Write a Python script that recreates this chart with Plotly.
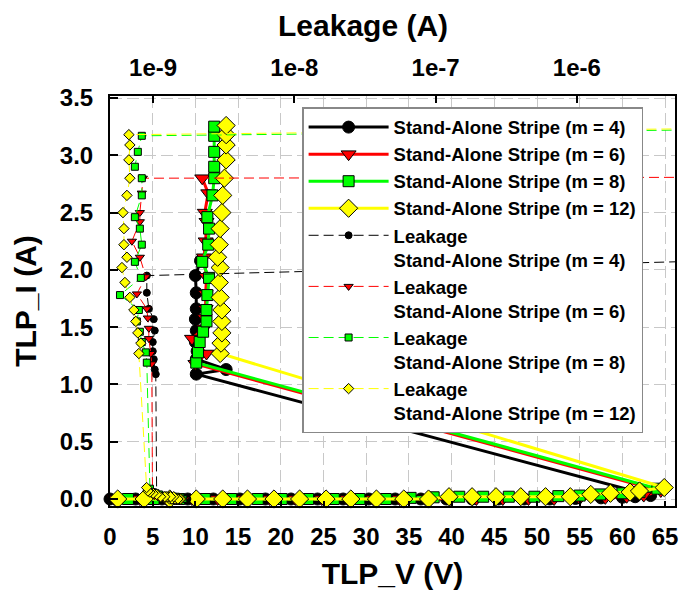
import plotly.graph_objects as go

# ---------------- TLP I-V data (TLP_V in V, TLP_I in A) ----------------
v_m4 = [0.0, 3.0, 6.1, 9.1, 12.1, 15.2, 18.2, 21.2, 24.3, 27.3, 30.3, 33.4, 36.4, 39.4, 42.4, 45.5,
        48.5, 51.5, 54.5, 57.5, 60.0, 61.5, 63.3,
        10.1, 13.6, 10.1, 10.2, 10.0, 10.1, 10.0, 10.1, 10.1, 10.0, 10.6]
i_m4 = [0.0, 0.0, 0.0, 0.0, 0.0, 0.0, 0.0, 0.0, 0.0, 0.0, 0.0, 0.0, 0.0, 0.0, 0.0, 0.0,
        0.0, 0.0, 0.005, 0.01, 0.015, 0.02, 0.03,
        1.09, 1.13, 1.22, 1.29, 1.37, 1.47, 1.57, 1.66, 1.80, 1.95, 2.08]

v_m6 = [0.5, 3.5, 6.6, 9.6, 12.6, 15.7, 18.7, 21.7, 24.8, 27.8, 30.8, 33.9, 36.9, 39.9, 42.9, 46.0,
        49.0, 52.0, 55.0, 58.0, 60.5, 62.5, 64.5,
        10.0, 11.3, 9.6, 11.0, 11.1, 11.2, 11.2, 11.3, 11.0, 11.2, 11.3, 11.1, 11.5, 10.8]
i_m6 = [0.0, 0.0, 0.0, 0.0, 0.0, 0.0, 0.0, 0.0, 0.0, 0.0, 0.0, 0.0, 0.0, 0.0, 0.0, 0.0,
        0.0, 0.0, 0.005, 0.01, 0.02, 0.03, 0.07,
        1.18, 1.27, 1.40, 1.49, 1.58, 1.66, 1.79, 1.94, 2.11, 2.25, 2.42, 2.50, 2.67, 2.80]

v_m8 = [2.1, 5.1, 8.1, 11.1, 14.2, 17.3, 20.1, 23.2, 26.2, 29.2, 32.3, 35.2, 37.9, 40.9, 43.7, 46.7,
        49.7, 52.5, 55.0, 57.4, 60.0, 62.0, 64.1,
        10.1, 10.3, 10.5, 10.9, 11.3, 11.3, 11.4, 11.6, 10.8, 11.5, 11.6, 11.4, 12.0, 12.2, 12.2,
        12.2, 12.2, 12.2]
i_m8 = [0.0, 0.0, 0.0, 0.0, 0.0, 0.0, 0.0, 0.0, 0.0, 0.0, 0.0, 0.01, 0.015, 0.02, 0.02, 0.02,
        0.02, 0.025, 0.03, 0.04, 0.05, 0.06, 0.09,
        1.19, 1.28, 1.37, 1.46, 1.55, 1.65, 1.78, 1.93, 2.07, 2.22, 2.36, 2.46, 2.65, 2.80, 2.90,
        3.03, 3.17, 3.25]

v_m12 = [0.9, 4.0, 7.0, 10.1, 13.2, 16.1, 19.2, 22.2, 25.3, 28.2, 31.2, 34.4, 37.3, 39.7, 42.4, 45.2,
         48.1, 51.0, 53.9, 56.3, 58.6, 60.9, 62.0, 64.9,
         12.9, 13.0, 13.1, 13.1, 13.1, 12.9, 12.8, 12.9, 12.6, 12.8, 12.9, 13.1, 13.2, 13.4, 13.6,
         13.6, 13.6, 13.6]
i_m12 = [0.0, 0.0, 0.0, 0.0, 0.0, 0.0, 0.0, 0.0, 0.0, 0.0, 0.0, 0.0, 0.0, 0.02, 0.02, 0.02,
         0.02, 0.02, 0.02, 0.04, 0.05, 0.06, 0.07, 0.10,
         1.27, 1.36, 1.45, 1.55, 1.65, 1.76, 1.89, 2.02, 2.11, 2.22, 2.36, 2.50, 2.65, 2.80, 2.96,
         3.09, 3.18, 3.26]

# ---------------- Leakage data (leakage in A vs TLP_I in A) ----------------
leak_m4 = [1.62e-9, 1.75e-9, 1.55e-9, 1.68e-9, 1.48e-9, 1.60e-9, 1.72e-9, 1.52e-9, 1.64e-9, 1.44e-9,
           1.58e-9, 1.50e-9, 1.66e-9, 1.42e-9, 1.54e-9, 1.38e-9, 1.47e-9, 1.34e-9, 1.28e-9, 1.22e-9,
           1.16e-9, 1.10e-9, 1.06e-9,
           1.045e-9, 1.028e-9, 1.011e-9, 9.95e-10, 9.95e-10, 1.028e-9, 1.011e-9, 9.33e-10, 9.03e-10,
           9.03e-10, 1.0e-5]
leak_i_m4 = i_m4

leak_m6 = [1.58e-9, 1.70e-9, 1.50e-9, 1.64e-9, 1.45e-9, 1.56e-9, 1.68e-9, 1.49e-9, 1.60e-9, 1.41e-9,
           1.53e-9, 1.46e-9, 1.62e-9, 1.39e-9, 1.50e-9, 1.34e-9, 1.43e-9, 1.30e-9, 1.22e-9, 1.15e-9,
           1.08e-9, 1.02e-9, 9.9e-10,
           9.79e-10, 9.63e-10, 9.33e-10, 9.33e-10, 9.18e-10, 9.03e-10, 7.68e-10, 8.88e-10, 8.06e-10,
           7.08e-10, 8.06e-10, 8.06e-10, 8.32e-10, 8.46e-10, 1.0e-4]
leak_i_m6 = i_m6 + [2.81]

leak_m8 = [1.52e-9, 1.64e-9, 1.45e-9, 1.58e-9, 1.40e-9, 1.50e-9, 1.62e-9, 1.43e-9, 1.55e-9, 1.36e-9,
           1.48e-9, 1.40e-9, 1.56e-9, 1.34e-9, 1.45e-9, 1.29e-9, 1.38e-9, 1.25e-9, 1.17e-9, 1.10e-9,
           1.04e-9, 9.8e-10, 9.5e-10,
           9.03e-10, 8.88e-10, 8.32e-10, 8.06e-10, 7.68e-10, 7.93e-10, 5.83e-10, 8.19e-10, 7.43e-10,
           8.32e-10, 8.06e-10, 7.43e-10, 8.32e-10, 8.32e-10, 7.43e-10, 7.80e-10, 8.32e-10, 1.0e-3]
leak_i_m8 = i_m8

leak_m12 = [1.45e-9, 1.58e-9, 1.40e-9, 1.52e-9, 1.35e-9, 1.45e-9, 1.56e-9, 1.38e-9, 1.50e-9, 1.31e-9,
            1.43e-9, 1.36e-9, 1.50e-9, 1.30e-9, 1.40e-9, 1.25e-9, 1.33e-9, 1.21e-9, 1.13e-9, 1.06e-9,
            1.00e-9, 9.5e-10, 9.2e-10, 9.0e-10,
            7.93e-10, 8.19e-10, 7.80e-10, 7.55e-10, 7.31e-10, 6.85e-10, 6.32e-10, 6.02e-10, 6.53e-10,
            6.22e-10, 6.22e-10, 6.12e-10, 6.53e-10, 6.85e-10, 6.74e-10, 6.85e-10, 6.74e-10, 1.0e-3]
leak_i_m12 = i_m12

series_names = ["Stand-Alone Stripe (m = 4)", "Stand-Alone Stripe (m = 6)",
                "Stand-Alone Stripe (m = 8)", "Stand-Alone Stripe (m = 12)"]
top_tickvals = [1e-9, 1e-8, 1e-7, 1e-6]
top_ticktext = ["1e-9", "1e-8", "1e-7", "1e-6"]

FONT = "Liberation Sans, Arial, Helvetica, sans-serif"

styles = [
    dict(color="#000000", symbol="circle", size=12, lsize=7),
    dict(color="#ff0000", symbol="triangle-down", size=13, lsize=8),
    dict(color="#00ff00", symbol="square", size=11, lsize=7),
    dict(color="#ffff00", symbol="diamond", size=14, lsize=8),
]
tlp = [(v_m4, i_m4), (v_m6, i_m6), (v_m8, i_m8), (v_m12, i_m12)]
leak = [(leak_m4, leak_i_m4), (leak_m6, leak_i_m6), (leak_m8, leak_i_m8), (leak_m12, leak_i_m12)]

fig = go.Figure()
for name, st, (vx, iy) in zip(series_names, styles, tlp):
    fig.add_trace(go.Scatter(
        x=vx, y=iy, mode="lines+markers", name=name, cliponaxis=False,
        line=dict(color=st["color"], width=3),
        marker=dict(symbol=st["symbol"], size=st["size"], color=st["color"],
                    line=dict(color="#000000", width=1)),
    ))
for name, st, (lx, ly) in zip(series_names, styles, leak):
    fig.add_trace(go.Scatter(
        x=lx, y=ly, xaxis="x2", yaxis="y", mode="lines+markers",
        name="Leakage<br>" + name,
        line=dict(color=st["color"], width=1, dash="10px,5px"),
        marker=dict(symbol=st["symbol"], size=st["lsize"], color=st["color"],
                    line=dict(color="#000000", width=1)),
    ))

grid = dict(showgrid=True, gridcolor="#c8c8c8", gridwidth=1.3, griddash="12px,5px")
tickfont = dict(family=FONT, size=24, color="#000000", weight="bold")
titlefont = dict(family=FONT, size=30, color="#000000", weight="bold")

fig.update_layout(
    width=685, height=600, autosize=False,
    margin=dict(l=110, r=7, t=96, b=94, pad=0),
    paper_bgcolor="white", plot_bgcolor="white",
    font=dict(family=FONT, color="#000000"),
    xaxis=dict(range=[0, 66.16], tick0=0, dtick=5, zeroline=False,
               showline=True, linecolor="#000000", linewidth=2,
               ticks="inside", ticklen=5, tickwidth=1.5, tickcolor="#000000",
               tickfont=tickfont, ticklabelstandoff=8,
               title=dict(text="TLP_V (V)", font=titlefont, standoff=14), **grid),
    xaxis2=dict(type="log", overlaying="x", side="top", anchor="y",
                range=[-9.305, -5.305], tickvals=top_tickvals, ticktext=top_ticktext,
                showgrid=False, zeroline=False, showline=True, linecolor="#000000", linewidth=2,
                ticks="inside", ticklen=7, tickwidth=2, tickcolor="#000000",
                tickfont=tickfont, ticklabelstandoff=8),
    yaxis=dict(range=[-0.061, 3.5175], tick0=0, dtick=0.5, tickformat=".1f", zeroline=False,
               showline=True, mirror=True, linecolor="#000000", linewidth=2,
               ticks="inside", ticklen=8, tickwidth=2, tickcolor="#000000",
               tickfont=tickfont, ticklabelstandoff=10,
               title=dict(text="TLP_I (A)", font=titlefont, standoff=14), **grid),
    legend=dict(x=0.34, y=0.973, xanchor="left", yanchor="top",
                bgcolor="white", bordercolor="#888888", borderwidth=1.5,
                font=dict(family=FONT, size=18.5, color="#000000", weight="bold"),
                itemwidth=80, valign="top", tracegroupgap=0),
    annotations=[dict(text="Leakage (A)", xref="paper", yref="paper",
                      x=(364 - 110) / 568, y=1 + (96 - 25) / 410,
                      xanchor="center", yanchor="middle", showarrow=False,
                      font=titlefont)],
)

fig.write_html("out.html")
